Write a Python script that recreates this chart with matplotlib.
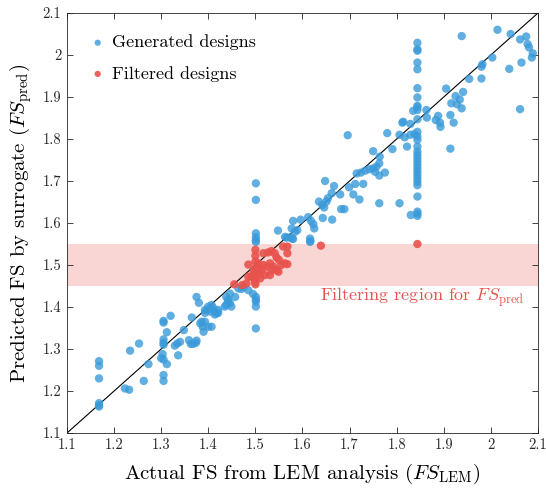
import matplotlib
matplotlib.use("Agg")
import matplotlib.pyplot as plt
import numpy as np

plt.rcParams['font.family'] = 'serif'
plt.rcParams['font.serif'] = ['cmr10', 'DejaVu Serif']
plt.rcParams['mathtext.fontset'] = 'cm'
plt.rcParams['axes.formatter.use_mathtext'] = True

# ---- data: generated designs (actual FS_LEM, predicted FS_pred) ----
gen_x = [1.168, 1.168, 1.168, 1.168, 1.168, 1.168,
         1.223, 1.232, 1.234, 1.253, 1.263, 1.273,
         1.305, 1.305, 1.320, 1.312, 1.305, 1.305, 1.305,
         1.303, 1.300, 1.305, 1.312, 1.305, 1.305,
         1.329, 1.334, 1.340, 1.336, 1.348,
         1.359, 1.363, 1.368, 1.374, 1.375,
         1.365, 1.375, 1.380,
         1.386, 1.393, 1.400, 1.407, 1.390, 1.388, 1.383,
         1.393, 1.400, 1.407, 1.411, 1.414, 1.418, 1.421, 1.404, 1.398, 1.393, 1.414, 1.421,
         1.438, 1.442, 1.446, 1.438, 1.449, 1.435, 1.457, 1.446, 1.442,
         1.464, 1.475, 1.485, 1.471, 1.495,
         1.501, 1.501, 1.501, 1.501, 1.501,
         1.501, 1.501, 1.501, 1.501, 1.501, 1.501,
         1.548, 1.563, 1.566, 1.573, 1.580, 1.578, 1.577, 1.584, 1.589, 1.580, 1.596,
         1.612, 1.618, 1.623, 1.625, 1.616, 1.617, 1.616, 1.643,
         1.635, 1.646, 1.654, 1.648, 1.667, 1.662, 1.680, 1.682, 1.689, 1.642, 1.651, 1.663,
         1.696,
         1.699, 1.708, 1.712, 1.721, 1.729, 1.715, 1.724, 1.733, 1.742, 1.750, 1.754,
         1.757, 1.763, 1.764, 1.750, 1.763, 1.775, 1.780, 1.791, 1.806, 1.806, 1.763,
         1.812, 1.814, 1.817, 1.822, 1.829, 1.829, 1.838, 1.835, 1.830,
         1.844, 1.844, 1.844, 1.844, 1.844, 1.844, 1.844, 1.844, 1.844, 1.844,
         1.844, 1.844, 1.844, 1.844, 1.844, 1.844, 1.844, 1.844, 1.844, 1.844,
         1.844, 1.844, 1.844, 1.844, 1.844, 1.844, 1.844, 1.844, 1.844, 1.844,
         1.863, 1.864, 1.883, 1.888, 1.892, 1.893, 1.905, 1.916, 1.914, 1.921,
         1.925, 1.928, 1.934, 1.938, 1.941, 1.914, 1.938, 1.954, 1.980, 1.980,
         1.982, 2.003, 2.014, 2.042, 2.039, 2.062, 2.065, 2.062, 2.075, 2.078,
         2.081, 2.089, 2.087]
gen_y = [1.271, 1.260, 1.230, 1.171, 1.163, 1.166,
         1.206, 1.203, 1.296, 1.313, 1.224, 1.264,
         1.367, 1.363, 1.379, 1.340, 1.323, 1.315, 1.310,
         1.288, 1.278, 1.275, 1.264, 1.238, 1.224,
         1.308, 1.313, 1.317, 1.285, 1.345,
         1.321, 1.312, 1.312, 1.315, 1.320,
         1.375, 1.424, 1.410,
         1.365, 1.365, 1.353, 1.353, 1.341, 1.353, 1.361,
         1.393, 1.401, 1.405, 1.397, 1.389, 1.385, 1.393, 1.389, 1.393, 1.386, 1.382, 1.386,
         1.424, 1.417, 1.409, 1.405, 1.401, 1.401, 1.424, 1.432, 1.413,
         1.444, 1.448, 1.440, 1.443, 1.431,
         1.424, 1.417, 1.413, 1.401, 1.349,
         1.5755, 1.566, 1.559, 1.555, 1.655, 1.6945,
         1.582, 1.567, 1.565, 1.566, 1.562, 1.563, 1.587, 1.579, 1.583, 1.605, 1.608,
         1.614, 1.605, 1.597, 1.587, 1.563, 1.557, 1.555, 1.612,
         1.651, 1.637, 1.659, 1.700, 1.688, 1.671, 1.668, 1.633, 1.633, 1.643, 1.651, 1.608,
         1.809,
         1.685, 1.668, 1.693, 1.656, 1.693, 1.718, 1.720, 1.7245, 1.728, 1.730, 1.722,
         1.734, 1.742, 1.758, 1.771, 1.713, 1.720, 1.814, 1.776, 1.810, 1.647, 1.647,
         1.839, 1.841, 1.804, 1.782, 1.836, 1.810, 1.812, 1.867, 1.619,
         2.029, 2.0135, 2.010, 1.982, 1.966, 1.921, 1.899, 1.879, 1.876, 1.869,
         1.847, 1.817, 1.806, 1.798, 1.782, 1.770, 1.762, 1.754, 1.746, 1.738,
         1.730, 1.722, 1.714, 1.706, 1.698, 1.690, 1.663, 1.627, 1.622, 1.617,
         1.869, 1.851, 1.845, 1.855, 1.839, 1.829, 1.920, 1.885, 1.857, 1.839,
         1.902, 1.883, 1.894, 1.873, 1.912, 1.777, 2.045, 1.943, 1.944, 1.972,
         1.978, 1.994, 2.060, 2.050, 1.967, 2.037, 1.982, 1.871, 2.044, 2.026,
         2.018, 2.004, 1.994]

# ---- data: filtered designs ----
fil_x = [1.455, 1.472, 1.481, 1.485, 1.485, 1.496, 1.492,
         1.500, 1.500, 1.500, 1.500, 1.500, 1.500, 1.500, 1.499,
         1.506, 1.510, 1.510, 1.513, 1.517, 1.517, 1.520, 1.524, 1.527,
         1.531, 1.531, 1.534, 1.534, 1.538, 1.541, 1.545, 1.545, 1.550,
         1.555, 1.562, 1.559, 1.568, 1.568, 1.506, 1.568, 1.549,
         1.639, 1.844]
fil_y = [1.454, 1.452, 1.456, 1.472, 1.501, 1.484, 1.472,
         1.492, 1.480, 1.468, 1.454, 1.536, 1.522, 1.508, 1.460,
         1.492, 1.480, 1.468, 1.488, 1.528, 1.500, 1.476, 1.496, 1.530,
         1.504, 1.476, 1.533, 1.488, 1.496, 1.528, 1.518, 1.488, 1.512,
         1.500, 1.504, 1.544, 1.544, 1.528, 1.504, 1.502, 1.484,
         1.546, 1.550]

band_lo, band_hi = 1.45, 1.55
ticks = [1.1, 1.2, 1.3, 1.4, 1.5, 1.6, 1.7, 1.8, 1.9, 2.0, 2.1]
tick_labels = ['1.1', '1.2', '1.3', '1.4', '1.5', '1.6', '1.7', '1.8', '1.9', '2', '2.1']

blue = '#3a9ad9'
red = '#e8524c'
axcol = '#262626'

fig = plt.figure(figsize=(5.46, 4.92), dpi=100)
ax = fig.add_axes([0.1227, 0.1199, 0.8626, 0.8537])

ax.axhspan(band_lo, band_hi, color='#f9d6d4', zorder=0, lw=0)
ax.plot([1.1, 2.1], [1.1, 2.1], color='black', lw=0.8, zorder=1)
ax.scatter(gen_x, gen_y, s=36, color=blue, alpha=0.8, edgecolors='none',
           label='Generated designs', zorder=2)
ax.scatter(fil_x, fil_y, s=36, color=red, alpha=0.9, edgecolors='none',
           label='Filtered designs', zorder=3)

ax.text(1.637, 1.424, r'Filtering region for $FS_{\rm pred}$', color=red,
        fontsize=13, va='center', ha='left')

ax.set_xlim(1.1, 2.1)
ax.set_ylim(1.1, 2.1)
ax.set_xticks(ticks)
ax.set_xticklabels(tick_labels)
ax.set_yticks(ticks)
ax.set_yticklabels(tick_labels)
ax.tick_params(direction='in', top=True, right=True, length=4, width=0.6,
               labelsize=10.5, colors=axcol, pad=4)
for sp in ax.spines.values():
    sp.set_color(axcol)
    sp.set_linewidth(0.6)

ax.set_xlabel(r'Actual FS from LEM analysis ($FS_{\rm LEM}$)', fontsize=15, color='black', labelpad=7)
ax.set_ylabel(r'Predicted FS by surrogate ($FS_{\rm pred}$)', fontsize=15, color='black', labelpad=6)

leg = ax.legend(loc='upper left', frameon=False, fontsize=13, markerscale=0.75,
                handletextpad=0.3, labelspacing=0.85, borderaxespad=0.6,
                handlelength=1.0, borderpad=0.6)

fig.savefig('out.png', dpi=100)
